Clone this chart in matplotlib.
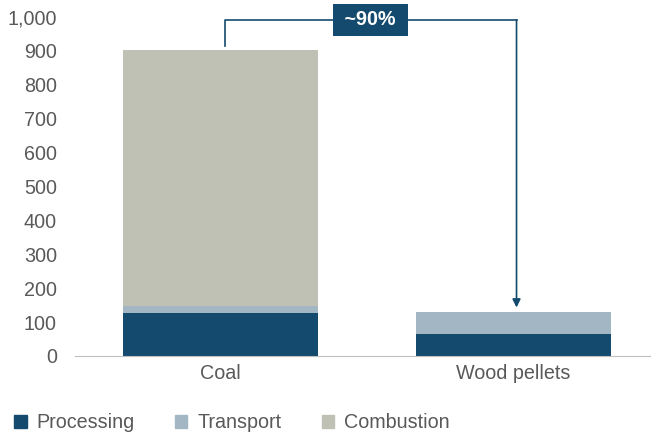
import matplotlib
matplotlib.use("Agg")
from matplotlib import pyplot as plt
from matplotlib.patches import Patch

plt.rcParams["font.family"] = ["Liberation Sans", "DejaVu Sans"]

categories = ["Coal", "Wood pellets"]
processing = [128, 64]
transport = [20, 65]
combustion = [755, 0]
yticks = [0, 100, 200, 300, 400, 500, 600, 700, 800, 900, 1000]

c_proc = "#134a6e"
c_trans = "#a2b6c4"
c_comb = "#bfc1b4"
grey = "#595959"
fs = 14.2

fig = plt.figure(figsize=(6.51, 4.32), dpi=100)
ax = fig.add_axes([75 / 651, 0.176, 576 / 651, 0.785])

x = list(range(len(categories)))
w = 0.666
ax.bar(x, processing, w, color=c_proc, label="Processing")
bot2 = processing
ax.bar(x, transport, w, bottom=bot2, color=c_trans, label="Transport")
bot3 = [p + t for p, t in zip(processing, transport)]
ax.bar(x, combustion, w, bottom=bot3, color=c_comb, label="Combustion")

ax.set_xlim(-0.497, 1.469)
ax.set_ylim(0, 1000)
ax.set_yticks(yticks)
ax.set_yticklabels([f"{v:,}" for v in yticks], color=grey, fontsize=fs)
ax.set_xticks(x)
ax.set_xticklabels(categories, color=grey, fontsize=fs)
ax.tick_params(axis="x", length=0, pad=6)
ax.tick_params(axis="y", length=0, pad=13)
for s in ["top", "right", "left"]:
    ax.spines[s].set_visible(False)
ax.spines["bottom"].set_color("#bfbfbf")

# bracket arrow showing the reduction
top_coal = bot3[0] + combustion[0]
top_wood = bot3[1] + combustion[1]
ax.plot([0.015, 0.015, 1.01], [top_coal + 10, 991, 991], color=c_proc, lw=1.2, clip_on=False)
ax.annotate("", xy=(1.01, top_wood + 14), xytext=(1.01, 991),
            arrowprops=dict(arrowstyle="-|>", color=c_proc, lw=1.2, mutation_scale=12,
                            shrinkA=0, shrinkB=0), annotation_clip=False)
ax.text(0.51, 991, " ~90% ", ha="center", va="center", color="white", fontsize=fs,
        fontweight="bold",
        bbox=dict(boxstyle="square,pad=0.33", fc=c_proc, ec="none"))

handles = [Patch(color=c_proc, label="Processing"),
           Patch(color=c_trans, label="Transport"),
           Patch(color=c_comb, label="Combustion")]
leg = fig.legend(handles=handles, loc="lower left", bbox_to_anchor=(-0.005, -0.042), ncol=3,
                 frameon=False, fontsize=fs, handlelength=0.62, handleheight=0.62,
                 handletextpad=0.5, columnspacing=2.05)
for t in leg.get_texts():
    t.set_color(grey)

fig.savefig("out.png", dpi=100)
